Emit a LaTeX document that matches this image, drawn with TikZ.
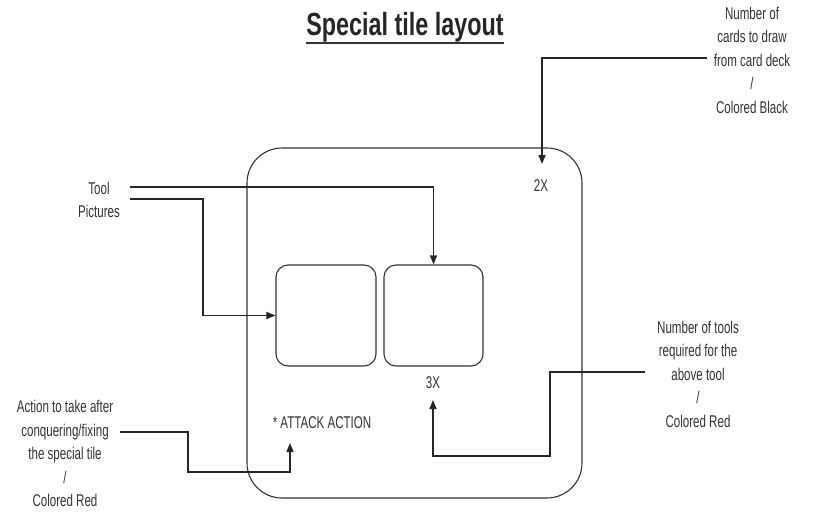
\documentclass[tikz,border=0pt]{standalone}
\usepackage{fontspec}
\setmainfont{Liberation Sans}
\usepackage{graphicx}
\usetikzlibrary{arrows.meta,calc}
\newcommand\sqz[1]{\scalebox{0.68}[1]{#1}}
\begin{document}
\begin{tikzpicture}[x=1pt,y=1pt,
  lbl/.style={text=black!80,font=\fontsize{17}{23.5}\selectfont,align=center,inner sep=3pt},
  boxn/.style={draw=black!80,line width=1.1pt,inner sep=0},
  conn/.style={draw=black!85,line width=1.4pt},
  arr/.style={conn,-{Triangle[length=9pt,width=7pt]}}]
\useasboundingbox (0,0) rectangle (813,-514);
% title
\node[anchor=base,inner sep=0,text=black!85,font=\bfseries\fontsize{32}{32}\selectfont] (title) at (405,-35) {\scalebox{0.73}[1]{Special tile layout}};
\draw[line width=2pt,black!80] ([yshift=-8pt]title.base west) -- ([yshift=-8pt]title.base east);
% shapes
\node[boxn,rounded corners=35pt,minimum width=335pt,minimum height=350pt] (tile) at (414.5,-323) {};
\node[boxn,rounded corners=12pt,minimum width=100pt,minimum height=101pt] (pic1) at (326,-315.5) {};
\node[boxn,rounded corners=12pt,minimum width=99pt,minimum height=101pt] (pic2) at (433.5,-315.5) {};
% texts
\node[lbl] (twox) at (541,-186) {\sqz{2X}};
\node[lbl] (threex) at (433,-383) {\sqz{3X}};
\node[lbl] (attack) at (322,-423) {\sqz{* ATTACK ACTION}};
\node[lbl] (cards) at (752,-60) {\sqz{Number of}\\\sqz{cards to draw}\\\sqz{from card deck}\\\sqz{/}\\\sqz{Colored Black}};
\node[lbl] (tool) at (99,-200) {\sqz{Tool}\\\sqz{Pictures}};
\node[lbl] (action) at (65,-453.5) {\sqz{Action to take after}\\\sqz{conquering/fixing}\\\sqz{the special tile}\\\sqz{/}\\\sqz{Colored Red}};
\node[lbl] (tools) at (698,-374) {\sqz{Number of tools}\\\sqz{required for the}\\\sqz{above tool}\\\sqz{/}\\\sqz{Colored Red}};
% connector ends
\coordinate (c1) at (707,-58);
\coordinate (c1tip) at (542,-164);
\coordinate (t1) at (130,-187);
\coordinate (t2) at (130,-199);
\coordinate (a1) at (120,-432);
\coordinate (atip) at (290,-443);
\coordinate (r1) at (645,-372);
\coordinate (rtip) at (433,-400);
% connectors
\draw[arr] (c1) -| (c1tip);
\draw[arr] (t1) -| (pic2.north);
\draw[arr] (t2) -- ++(73,0) |- (pic1.west);
\draw[arr] (a1) -- ++(68,0) -- ++(0,-40) -| (atip);
\draw[arr] (r1) -- ++(-95,0) -- ++(0,-84) -| (rtip);
\end{tikzpicture}
\end{document}
